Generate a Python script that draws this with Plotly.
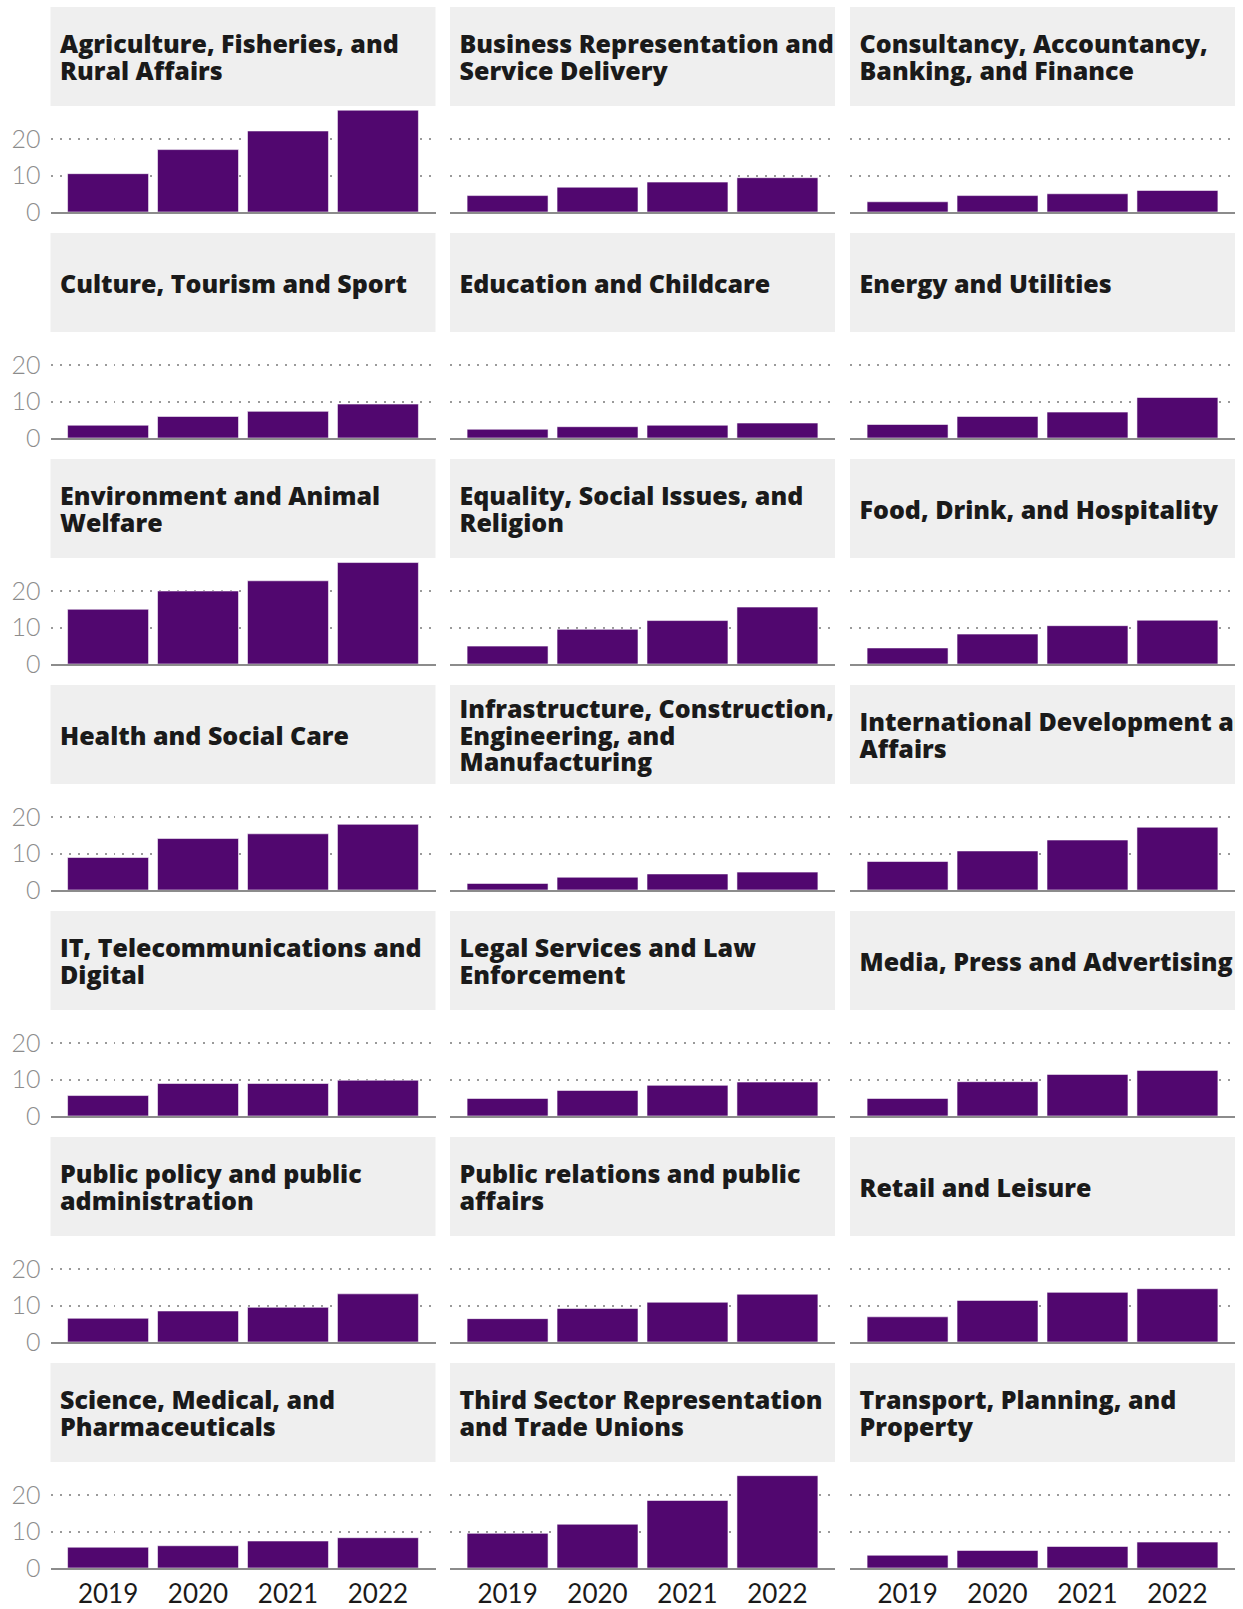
import plotly.graph_objects as go

# ---------------- data ----------------
years = ["2019", "2020", "2021", "2022"]
y_ticks = [0, 10, 20]

agriculture = [10.5, 17.1, 22.2, 27.9]
business = [4.5, 6.8, 8.2, 9.4]
consultancy = [2.8, 4.5, 5.0, 5.9]
culture = [3.5, 5.9, 7.3, 9.3]
education = [2.4, 3.1, 3.5, 4.1]
energy = [3.7, 5.9, 7.1, 11.1]
environment = [15.0, 20.0, 22.8, 27.8]
equality = [4.9, 9.5, 11.9, 15.6]
food = [4.4, 8.2, 10.5, 12.0]
health = [8.9, 14.1, 15.4, 18.0]
infrastructure = [1.8, 3.5, 4.4, 4.9]
international = [7.8, 10.7, 13.7, 17.2]
it_digital = [5.6, 8.9, 8.9, 9.8]
legal = [4.8, 7.0, 8.4, 9.3]
media = [4.8, 9.4, 11.4, 12.5]
public_policy = [6.5, 8.5, 9.5, 13.2]
public_relations = [6.4, 9.2, 10.9, 13.1]
retail = [6.9, 11.4, 13.6, 14.6]
science = [5.7, 6.1, 7.4, 8.3]
third_sector = [9.5, 12.0, 18.5, 25.3]
transport = [3.5, 4.8, 5.9, 7.1]

titles = [
    ["Agriculture, Fisheries, and", "Rural Affairs"],
    ["Business Representation and", "Service Delivery"],
    ["Consultancy, Accountancy,", "Banking, and Finance"],
    ["Culture, Tourism and Sport"],
    ["Education and Childcare"],
    ["Energy and Utilities"],
    ["Environment and Animal", "Welfare"],
    ["Equality, Social Issues, and", "Religion"],
    ["Food, Drink, and Hospitality"],
    ["Health and Social Care"],
    ["Infrastructure, Construction,", "Engineering, and", "Manufacturing"],
    ["International Development and", "Affairs"],
    ["IT, Telecommunications and", "Digital"],
    ["Legal Services and Law", "Enforcement"],
    ["Media, Press and Advertising"],
    ["Public policy and public", "administration"],
    ["Public relations and public", "affairs"],
    ["Retail and Leisure"],
    ["Science, Medical, and", "Pharmaceuticals"],
    ["Third Sector Representation", "and Trade Unions"],
    ["Transport, Planning, and", "Property"],
]
series = [agriculture, business, consultancy, culture, education, energy,
          environment, equality, food, health, infrastructure, international,
          it_digital, legal, media, public_policy, public_relations, retail,
          science, third_sector, transport]

# ---------------- layout constants ----------------
W, H = 1243, 1609
COL_X0 = [50.5, 450.0, 850.0]
COL_W = 385.0
ROW0_BASE = 212.0
ROW_PITCH = 226.0
PANEL_H = 102.0
HEAD_TOP = 205.0
HEAD_BOT = 106.0
Y_MAX = 27.95
BAR_COLOR = "#51076f"
HEAD_BG = "#efefef"
TITLE_FONT = dict(family="Open Sans", size=25, color="#1a1a1a", weight=800)
LINE_STEP = 26.7
TEXT_DROP = 4.0

fig = go.Figure()
layout = dict(
    width=W, height=H, autosize=False, margin=dict(l=0, r=0, t=0, b=0, pad=0),
    paper_bgcolor="white", plot_bgcolor="white", showlegend=False,
    bargap=0.1, shapes=[],
)

def py(px):
    return 1 - px / H

for i, (lines, vals) in enumerate(zip(titles, series)):
    r, c = divmod(i, 3)
    base = ROW0_BASE + r * ROW_PITCH
    x0 = COL_X0[c] / W
    x1 = (COL_X0[c] + COL_W) / W
    nb = 2 * i + 1
    nh = 2 * i + 2
    sb = "" if nb == 1 else str(nb)
    sh = str(nh)

    # bar panel
    fig.add_trace(go.Bar(
        x=years, y=vals, xaxis="x" + sb, yaxis="y" + sb,
        marker=dict(color=BAR_COLOR, line=dict(color="rgba(255,255,255,0.7)", width=0.8)),
        hoverinfo="x+y",
    ))
    layout["xaxis" + sb] = dict(
        domain=[x0, x1], anchor="y" + sb, type="category",
        categoryorder="array", categoryarray=years,
        range=[-0.64, 3.64], showgrid=False, zeroline=False,
        showline=True, linecolor="#8c8c8c", linewidth=2.2,
        ticks="", showticklabels=(r == 6), ticklabelstandoff=2,
        tickfont=dict(family="Lato", size=26, color="#1a1a1a"),
        automargin=False, fixedrange=True,
    )
    layout["yaxis" + sb] = dict(
        domain=[py(base), py(base - PANEL_H)], anchor="x" + sb,
        range=[0, Y_MAX], tickvals=y_ticks, showgrid=True,
        gridcolor="#9a9a9a", gridwidth=1.6, griddash="2px,7px",
        zeroline=False, showline=False, ticks="",
        showticklabels=(c == 0), ticklabelstandoff=9,
        tickfont=dict(family="Lato", size=25, color="#8c8c8c", weight=300),
        automargin=False, fixedrange=True,
    )

    # header panel
    n = len(lines)
    hh = HEAD_TOP - HEAD_BOT
    ys = [hh / 2 + (n - 1) / 2 * LINE_STEP - k * LINE_STEP - TEXT_DROP for k in range(n)]
    fig.add_trace(go.Scatter(
        x=[9.5] * n, y=ys, text=lines, mode="text",
        textposition="middle right", textfont=TITLE_FONT,
        xaxis="x" + sh, yaxis="y" + sh, cliponaxis=True, hoverinfo="skip",
    ))
    layout["xaxis" + sh] = dict(domain=[x0, x1], anchor="y" + sh,
                                range=[0, COL_W], visible=False,
                                automargin=False, fixedrange=True)
    layout["yaxis" + sh] = dict(domain=[py(base - HEAD_BOT), py(base - HEAD_TOP)],
                                anchor="x" + sh, range=[0, hh], visible=False,
                                automargin=False, fixedrange=True)
    layout["shapes"].append(dict(
        type="rect", xref="x" + sh + " domain", yref="y" + sh + " domain",
        x0=0, x1=1, y0=0, y1=1, fillcolor=HEAD_BG, line=dict(width=0),
        layer="below",
    ))

fig.update_layout(**layout)
fig.write_html(
    "out.html",
    config={"displayModeBar": False, "responsive": False},
    post_script=(
        "document.documentElement.style.margin='0';"
        "document.documentElement.style.overflow='hidden';"
        "document.body.style.margin='0';"
        "document.body.style.overflow='hidden';"
    ),
)
